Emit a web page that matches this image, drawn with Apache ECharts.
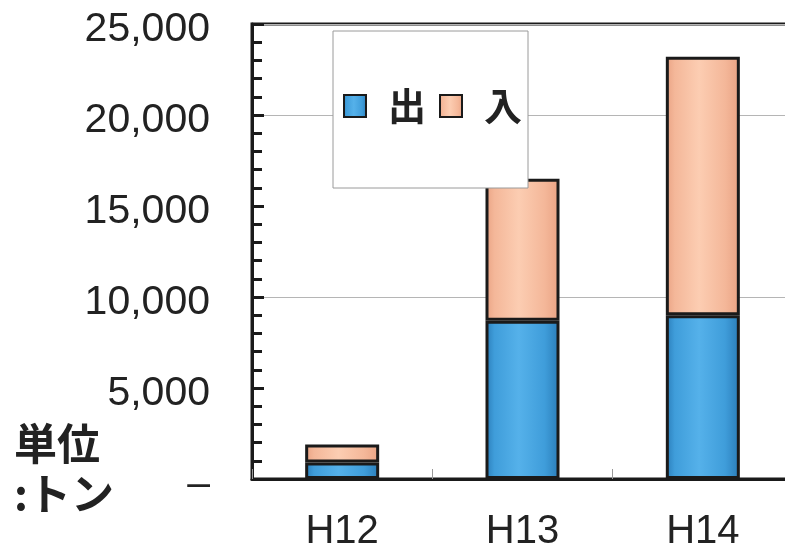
<!DOCTYPE html>
<html>
<head>
<meta charset="utf-8">
<script src="https://cdn.jsdelivr.net/npm/echarts@6/dist/echarts.min.js"></script>
<style>
  html, body { margin: 0; padding: 0; background: #fff; }
  #chart { width: 785px; height: 547px; }
</style>
</head>
<body>
<div id="chart"></div>
<script>
// 年度別の出入量（単位：トン）
const years = ['H12', 'H13', 'H14'];
const outTons = [900, 8700, 9000];   // 出
const inTons = [1000, 7800, 14200];  // 入
const seriesNames = ['出', '入'];
const yMin = 0;
const yMax = 25000;
const yStep = 5000;
const gridStep = 10000;

const numFont = '"Liberation Sans", Arial, sans-serif';
const cjkFont = '"Noto Sans CJK JP", "Noto Sans", sans-serif';

function cylinder(edge, mid, light) {
  return new echarts.graphic.LinearGradient(0, 0, 1, 0, [
    { offset: 0, color: edge },
    { offset: 0.12, color: mid },
    { offset: 0.45, color: light },
    { offset: 0.8, color: mid },
    { offset: 1, color: edge }
  ]);
}

const blueFill = cylinder('#2a7cb8', '#3f9dda', '#55b1ea');
const orangeFill = cylinder('#e9a283', '#f4b799', '#fccdb2');

const chart = echarts.init(document.getElementById('chart'));

chart.setOption({
  animation: false,
  backgroundColor: '#fff',
  grid: {
    left: 252, top: 24, width: 541, height: 455,
    outerBoundsMode: 'none',
    containLabel: false,
    show: true, borderColor: '#1a1a1a', borderWidth: 3
  },
  legend: {
    data: seriesNames,
    left: 333, top: 31,
    padding: [56, 6, 63, 10],
    backgroundColor: '#fff',
    borderColor: '#9a9a9a',
    borderWidth: 1,
    itemWidth: 22, itemHeight: 22,
    itemGap: 13,
    icon: 'rect',
    textStyle: {
      fontFamily: cjkFont, fontSize: 38, fontWeight: 'bold', color: '#222',
      padding: [0, 0, 0, 17]
    }
  },
  xAxis: {
    type: 'category',
    data: years,
    axisLine: { lineStyle: { color: '#1a1a1a', width: 3 } },
    axisTick: { show: true, inside: true, length: 10, lineStyle: { color: '#999', width: 1 } },
    axisLabel: { fontFamily: numFont, fontSize: 40, color: '#222', margin: 33 }
  },
  yAxis: [{
    type: 'value',
    min: yMin, max: yMax, interval: yStep,
    axisLine: { show: true, lineStyle: { color: '#1a1a1a', width: 3 } },
    axisTick: { show: true, inside: true, length: 12, lineStyle: { color: '#1a1a1a', width: 3 } },
    minorTick: { show: true, splitNumber: 5, length: 10, lineStyle: { color: '#1a1a1a', width: 3 } },
    splitLine: { show: false },
    axisLabel: {
      fontFamily: numFont, fontSize: 41, color: '#222', margin: 42,
      verticalAlign: 'top', lineHeight: 12,
      // zero is shown as a dash, accounting style
      formatter: v => v === 0 ? '–' : v.toLocaleString('en-US')
    }
  }, {
    type: 'value',
    min: yMin, max: yMax, interval: gridStep,
    position: 'left',
    axisLine: { show: false },
    axisTick: { show: false },
    axisLabel: { show: false },
    splitLine: { show: true, lineStyle: { color: '#b5b5b5', width: 1 } }
  }],
  graphic: [{
    type: 'text',
    left: 14, top: 419,
    style: {
      text: '単位\n:トン',
      font: 'bold 43px ' + cjkFont,
      lineHeight: 50,
      fill: '#222'
    }
  }],
  series: [{
    name: seriesNames[0],
    type: 'bar',
    stack: 'total',
    barWidth: 74,
    data: outTons,
    itemStyle: { color: blueFill, borderColor: '#1a1a1a', borderWidth: 3 }
  }, {
    name: seriesNames[1],
    type: 'bar',
    stack: 'total',
    barWidth: 74,
    data: inTons,
    itemStyle: { color: orangeFill, borderColor: '#1a1a1a', borderWidth: 3 }
  }]
});
</script>
</body>
</html>
